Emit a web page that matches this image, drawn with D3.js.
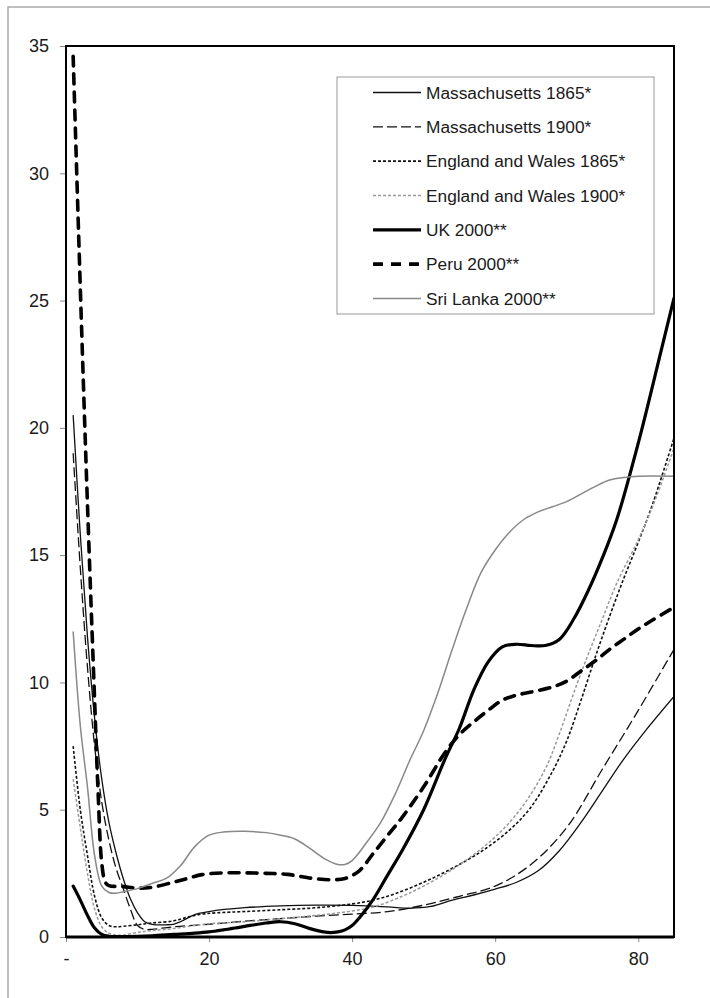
<!DOCTYPE html>
<html>
<head>
<meta charset="utf-8">
<script src="https://cdn.jsdelivr.net/npm/d3@7"></script>
<style>
  body { margin: 0; background: #fff; }
  svg text { font-family: "Liberation Sans", Arial, sans-serif; fill: #1a1a1a; }
</style>
</head>
<body>
<div id="chart"></div>
<script>
// Series: [age, value] pairs
const mass1865 = [[1,20.5],[2,15.8],[3,11.8],[4,8.6],[5,6.2],[6,4.5],[7,3.3],[8,2.3],[9,1.5],[10,0.95],[11,0.6],[12,0.5],[14,0.48],[15,0.5],[16,0.6],[18,0.88],[20,1.0],[25,1.15],[30,1.22],[35,1.25],[40,1.24],[45,1.18],[48,1.13],[51,1.2],[54,1.45],[57,1.65],[60,1.88],[63,2.15],[66,2.6],[69,3.4],[72,4.5],[75,5.75],[78,7.0],[81,8.1],[85,9.45]];
const mass1900 = [[1,19.0],[2,14.5],[3,10.6],[4,7.5],[5,5.3],[6,3.8],[7,2.7],[8,1.9],[9,1.1],[10,0.45],[11,0.3],[12,0.3],[15,0.4],[20,0.5],[25,0.62],[30,0.72],[35,0.82],[40,0.9],[45,1.0],[50,1.25],[55,1.6],[60,2.0],[65,2.85],[70,4.3],[75,6.6],[80,8.9],[85,11.3]];
const ew1865 = [[1,7.5],[2,5.0],[3,3.2],[4,1.6],[5,0.75],[6,0.45],[7,0.4],[8,0.42],[10,0.48],[12,0.55],[15,0.63],[17,0.78],[19,0.9],[21,0.95],[25,1.0],[30,1.07],[35,1.15],[40,1.3],[43,1.45],[46,1.7],[50,2.15],[54,2.7],[58,3.35],[62,4.2],[65,5.1],[68,6.5],[70,7.7],[72,9.3],[74,11.0],[76,12.6],[78,14.1],[80,15.5],[82,17.0],[85,19.6]];
const ew1900 = [[1,6.2],[2,4.3],[3,2.5],[4,1.1],[5,0.4],[6,0.15],[7,0.08],[8,0.08],[10,0.18],[12,0.25],[15,0.33],[18,0.45],[20,0.52],[25,0.6],[30,0.72],[35,0.85],[40,1.02],[43,1.18],[47,1.6],[50,2.0],[54,2.65],[58,3.45],[61,4.2],[64,5.2],[67,6.6],[69,8.0],[71,9.6],[73,11.1],[75,12.5],[77,13.9],[80,15.6],[82,16.9],[85,19.2]];
const uk2000 = [[1,2.0],[2,1.45],[3,0.85],[4,0.35],[5,0.1],[6,0.03],[8,0.02],[10,0.03],[12,0.05],[15,0.1],[18,0.15],[20,0.2],[22,0.28],[25,0.42],[28,0.55],[30,0.6],[32,0.52],[34,0.34],[36,0.2],[37,0.17],[38,0.2],[39,0.28],[40,0.45],[41,0.75],[43,1.5],[45,2.45],[47,3.4],[50,5.0],[53,7.0],[55,8.2],[57,9.7],[59,10.8],[61,11.4],[63,11.5],[65,11.45],[67,11.45],[69,11.7],[71,12.5],[73,13.6],[75,14.9],[77,16.4],[80,19.4],[83,22.8],[85,25.1]];
const peru2000 = [[1,34.6],[2,25.5],[3,17.0],[4,9.3],[4.5,5.6],[5,2.9],[5.5,2.15],[6,2.02],[8,1.98],[10,1.92],[12,1.95],[15,2.15],[17,2.3],[19,2.45],[22,2.52],[25,2.52],[28,2.5],[31,2.46],[34,2.32],[37,2.25],[39,2.3],[41,2.6],[43,3.3],[45,4.0],[47,4.7],[50,5.9],[53,7.25],[55,7.95],[57,8.45],[59,8.9],[61,9.3],[63,9.5],[65,9.62],[68,9.82],[70,10.05],[72,10.45],[74,10.85],[76,11.3],[78,11.7],[80,12.1],[82,12.45],[85,12.95]];
const sriLanka2000 = [[1,12.0],[2,8.3],[3,5.9],[4,3.2],[5,2.0],[6,1.75],[7,1.72],[8,1.78],[10,1.9],[12,2.1],[14,2.3],[16,2.8],[18,3.55],[20,4.0],[22,4.12],[25,4.15],[28,4.1],[30,4.0],[32,3.85],[34,3.5],[36,3.1],[38,2.85],[39,2.85],[40,3.0],[42,3.7],[44,4.5],[46,5.6],[48,6.9],[50,8.1],[52,9.6],[54,11.3],[56,12.9],[58,14.3],[60,15.2],[62,15.9],[64,16.4],[66,16.7],[68,16.9],[70,17.1],[72,17.4],[74,17.7],[76,17.95],[78,18.05],[80,18.1],[85,18.1]];

const seriesNames = ["Massachusetts 1865*", "Massachusetts 1900*", "England and Wales 1865*", "England and Wales 1900*", "UK 2000**", "Peru 2000**", "Sri Lanka 2000**"];
const xTicks = [0, 20, 40, 60, 80];
const yTicks = [0, 5, 10, 15, 20, 25, 30, 35];

const seriesData = [mass1865, mass1900, ew1865, ew1900, uk2000, peru2000, sriLanka2000];
const styles = [
    { color: "#111", width: 1.3, dash: null, cap: "butt" },
    { color: "#111", width: 1.3, dash: "10,4", cap: "butt" },
    { color: "#111", width: 1.6, dash: "3,2", cap: "butt" },
    { color: "#999", width: 1.5, dash: "3,2", cap: "butt" },
    { color: "#000", width: 3.2, dash: null, cap: "round" },
    { color: "#000", width: 3.6, dash: "10,8", cap: "round" },
    { color: "#888", width: 1.5, dash: null, cap: "butt" }
];

const W = 710, H = 998;
const plot = { left: 66, right: 674, top: 46, bottom: 937 };

const svg = d3.select("#chart").append("svg")
    .attr("width", W)
    .attr("height", H);

// outer chart frame (runs off the page on the right and bottom)
svg.append("rect")
    .attr("x", 8).attr("y", 7)
    .attr("width", 800).attr("height", 1100)
    .attr("fill", "#fff")
    .attr("stroke", "#aaa")
    .attr("stroke-width", 1.5);

const x = d3.scaleLinear().domain([0, 85]).range([plot.left, plot.right]);
const y = d3.scaleLinear().domain([0, 35]).range([plot.bottom, plot.top]);

// Y axis
const yAxis = svg.append("g")
    .attr("transform", "translate(" + plot.left + ",0)")
    .call(d3.axisLeft(y).tickValues(yTicks).tickSize(6).tickPadding(11));
yAxis.select(".domain").remove();
yAxis.selectAll(".tick line").attr("stroke", "#888");
yAxis.selectAll(".tick text").style("font-size", "18px");

// X axis
const xAxis = svg.append("g")
    .attr("transform", "translate(0," + plot.bottom + ")")
    .call(d3.axisBottom(x).tickValues(xTicks).tickSize(5).tickPadding(10)
        .tickFormat(d => d === 0 ? "-" : d));
xAxis.select(".domain").remove();
xAxis.selectAll(".tick line").attr("stroke", "#888");
xAxis.selectAll(".tick text").style("font-size", "18px");

// Lines (smoothed like the original spreadsheet chart)
const line = d3.line()
    .x(d => x(d[0]))
    .y(d => y(d[1]))
    .curve(d3.curveCatmullRom.alpha(0.5));

svg.append("clipPath").attr("id", "plotclip")
    .append("rect")
    .attr("x", plot.left).attr("y", plot.top)
    .attr("width", plot.right - plot.left).attr("height", plot.bottom - plot.top);

seriesData.forEach((data, i) => {
    const s = styles[i];
    svg.append("path")
        .datum(data)
        .attr("clip-path", "url(#plotclip)")
        .attr("fill", "none")
        .attr("stroke", s.color)
        .attr("stroke-width", s.width)
        .attr("stroke-linecap", s.cap)
        .attr("stroke-dasharray", s.dash)
        .attr("d", line);
});

// Plot area border
svg.append("rect")
    .attr("x", plot.left).attr("y", plot.top)
    .attr("width", plot.right - plot.left).attr("height", plot.bottom - plot.top)
    .attr("fill", "none")
    .attr("stroke", "#000")
    .attr("stroke-width", 2);
svg.append("line")
    .attr("x1", plot.left).attr("x2", plot.right)
    .attr("y1", plot.bottom).attr("y2", plot.bottom)
    .attr("stroke", "#000")
    .attr("stroke-width", 3);

// Legend
const legend = svg.append("g");
legend.append("rect")
    .attr("x", 337).attr("y", 77)
    .attr("width", 317).attr("height", 237)
    .attr("fill", "#fff")
    .attr("stroke", "#999")
    .attr("stroke-width", 1);

const rows = legend.selectAll(".legend-row")
    .data(seriesNames)
    .enter().append("g")
    .attr("class", "legend-row")
    .attr("transform", (d, i) => "translate(0," + (92.5 + i * 34.33) + ")");

rows.append("line")
    .attr("x1", 373).attr("x2", 421)
    .attr("y1", 0).attr("y2", 0)
    .attr("stroke", (d, i) => styles[i].color)
    .attr("stroke-width", (d, i) => styles[i].width)
    .attr("stroke-linecap", "butt")
    .attr("stroke-dasharray", (d, i) => styles[i].dash);

rows.append("text")
    .attr("x", 426)
    .attr("y", 0)
    .attr("dy", "0.36em")
    .style("font-size", "17.3px")
    .text(d => d);
</script>
</body>
</html>
